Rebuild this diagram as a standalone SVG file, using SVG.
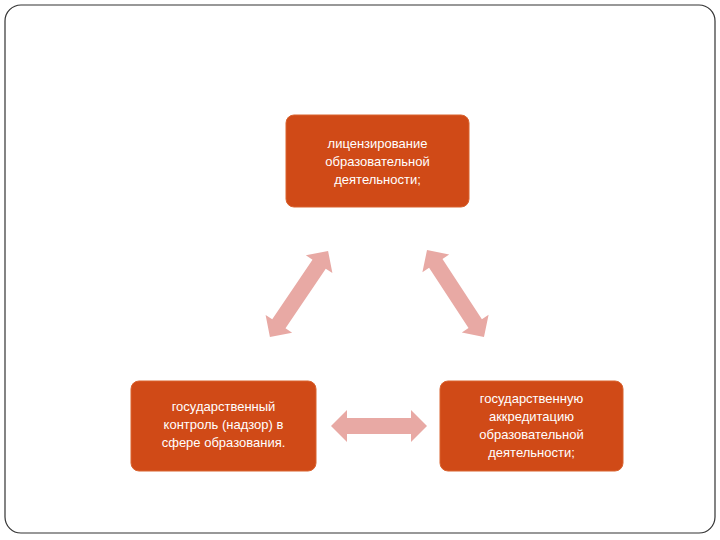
<svg xmlns="http://www.w3.org/2000/svg" width="720" height="540" viewBox="0 0 720 540">
<style>
.box{fill:#D04A17;stroke:#D9632F;stroke-width:1}
.t{font-family:"Liberation Sans",Arial,sans-serif;font-size:13px;fill:#fff;text-anchor:middle}
.arr{fill:#E8A9A4}
</style>
<rect width="720" height="540" fill="#fff"/>
<rect x="5" y="5" width="710" height="528" rx="16" fill="none" stroke="#333" stroke-width="1.2"/>
<g id="connectors">
<polygon class="arr" transform="translate(299,294) rotate(124)" points="-52,0 -36,-16 -36,-8 36,-8 36,-16 52,0 36,16 36,8 -36,8 -36,16"/>
<polygon class="arr" transform="translate(455.5,293.5) rotate(56.8)" points="-52,0 -36,-16 -36,-8 36,-8 36,-16 52,0 36,16 36,8 -36,8 -36,16"/>
<polygon class="arr" transform="translate(379,426)" points="-48,0 -32,-16 -32,-8 32,-8 32,-16 48,0 32,16 32,8 -32,8 -32,16"/>
</g>
<g id="n1">
<rect class="box" x="286" y="115" width="183" height="92" rx="8"/>
<text class="t" x="377.5" y="148">лицензирование</text>
<text class="t" x="377.5" y="166">образовательной</text>
<text class="t" x="377.5" y="184">деятельности;</text>
</g>
<g id="n2">
<rect class="box" x="131" y="381" width="185" height="90" rx="8"/>
<text class="t" x="223.5" y="411">государственный</text>
<text class="t" x="223.5" y="429">контроль (надзор) в</text>
<text class="t" x="223.5" y="447">сфере образования.</text>
</g>
<g id="n3">
<rect class="box" x="440" y="381" width="183" height="90" rx="8"/>
<text class="t" x="531.5" y="403">государственную</text>
<text class="t" x="531.5" y="421">аккредитацию</text>
<text class="t" x="531.5" y="439">образовательной</text>
<text class="t" x="531.5" y="457">деятельности;</text>
</g>
</svg>
